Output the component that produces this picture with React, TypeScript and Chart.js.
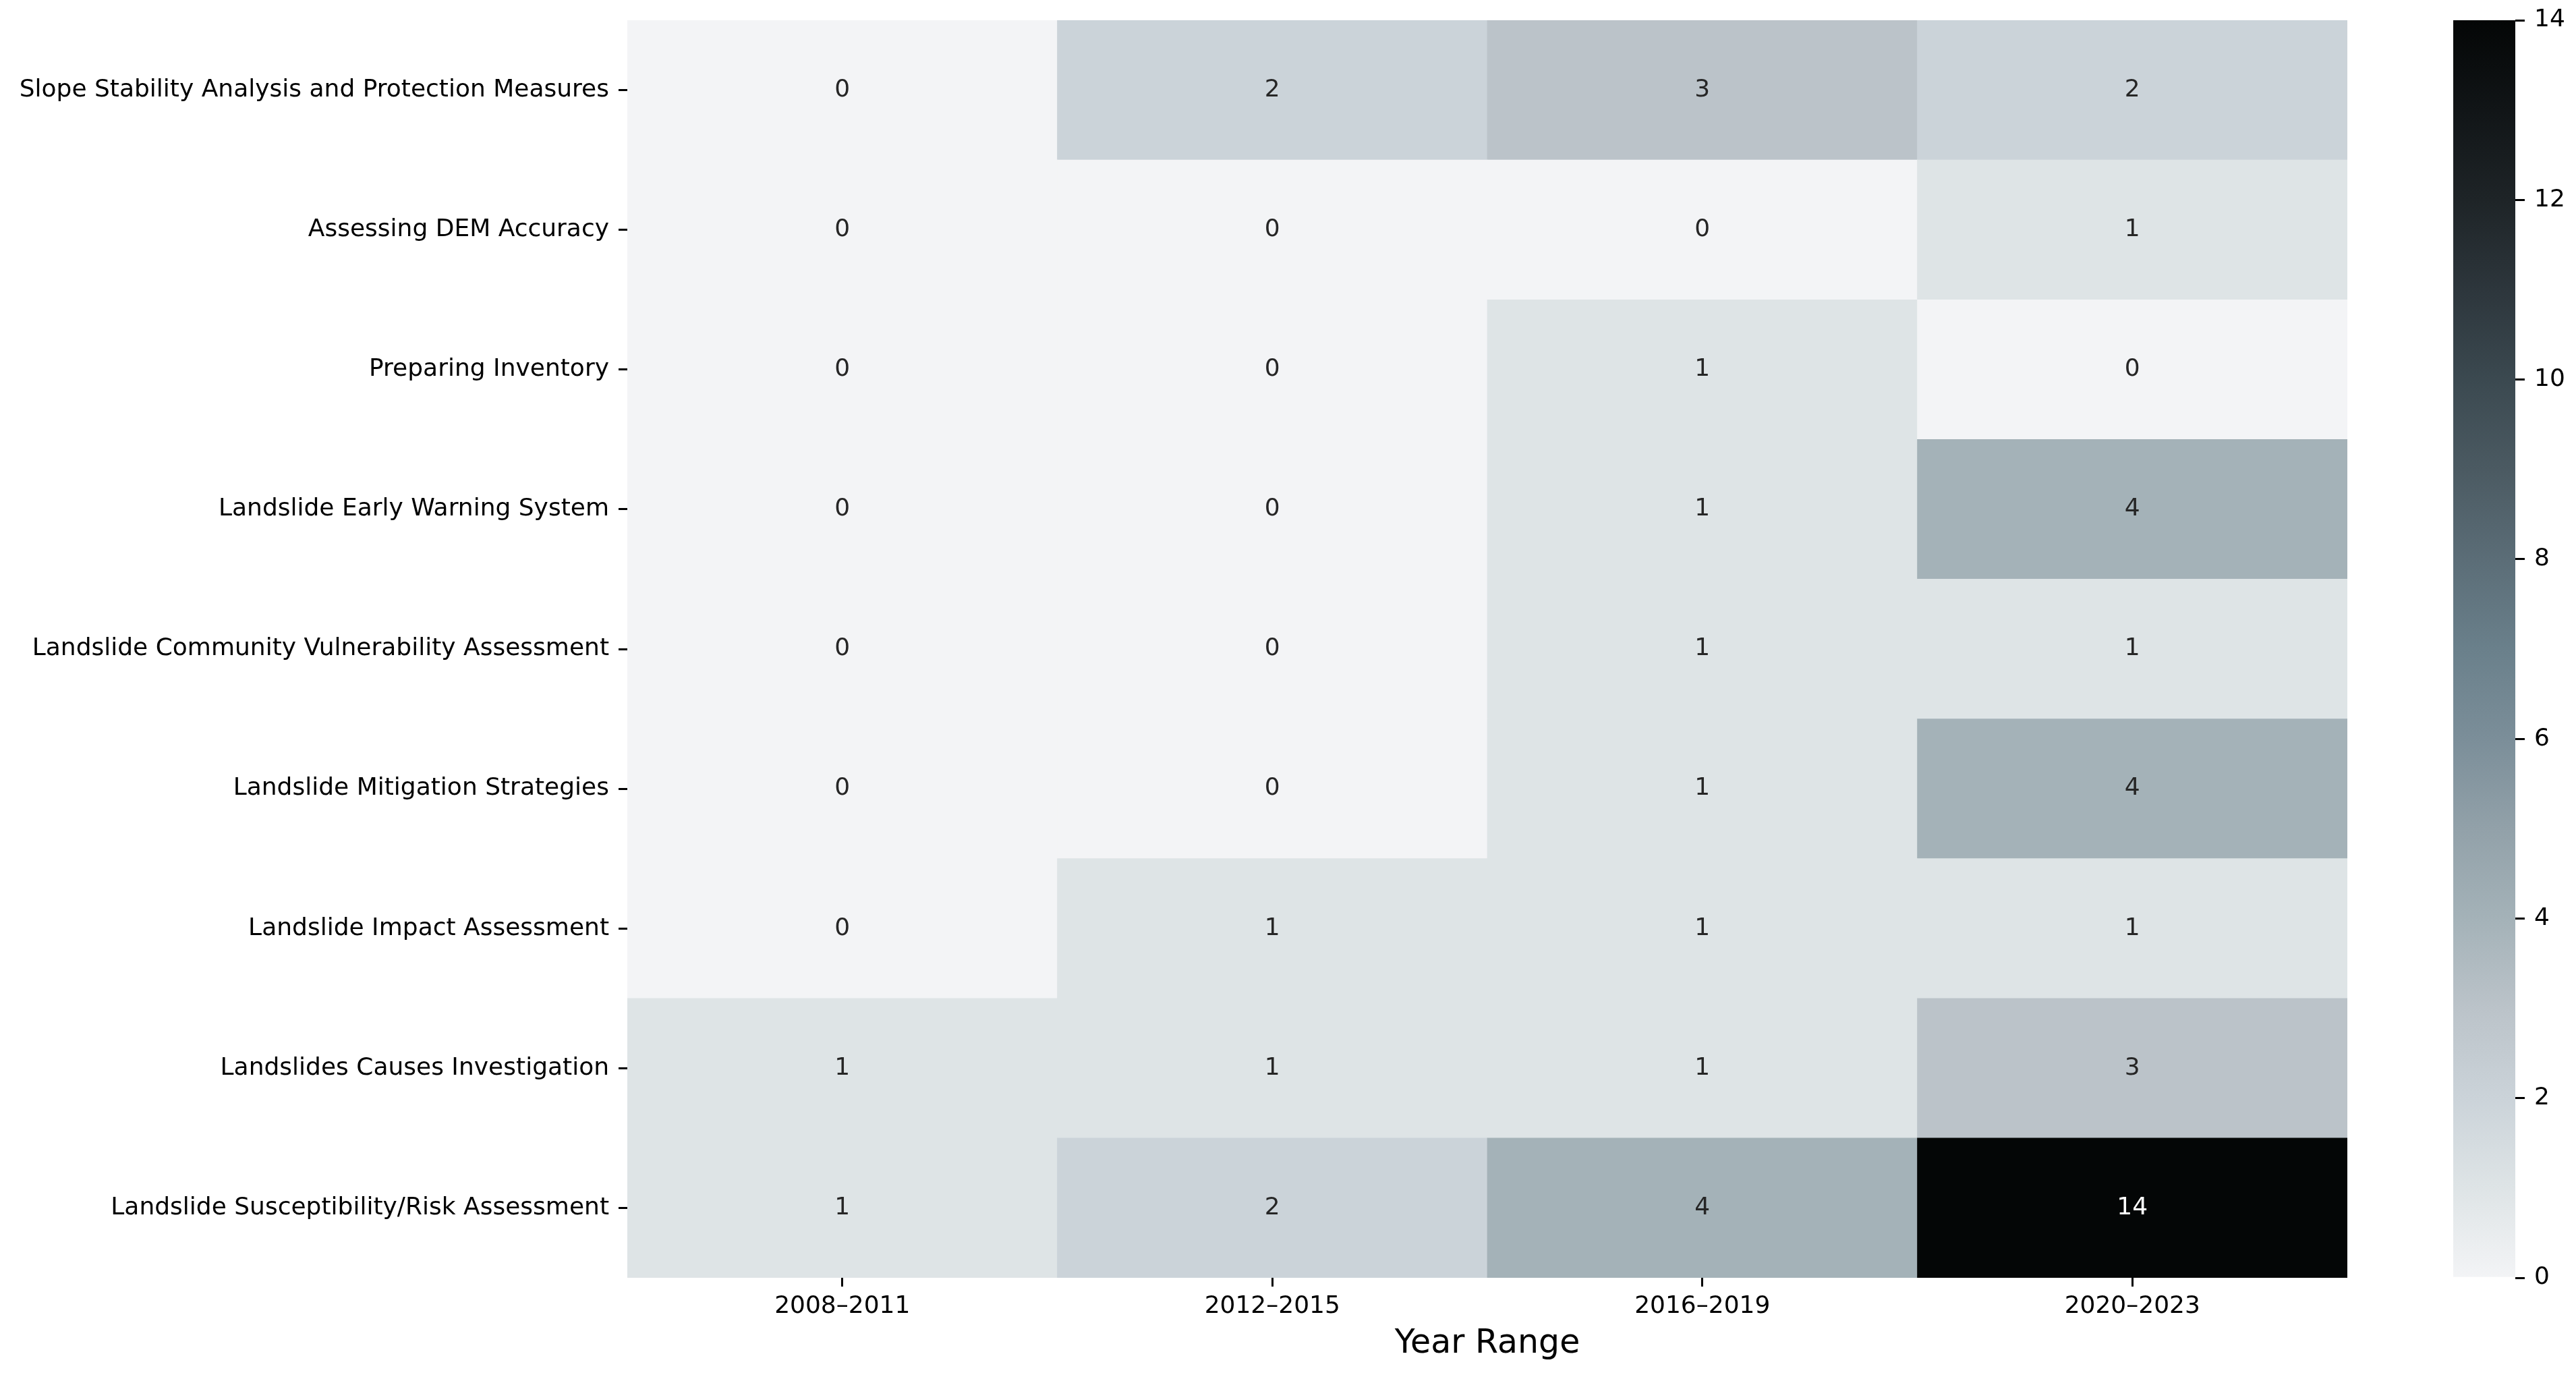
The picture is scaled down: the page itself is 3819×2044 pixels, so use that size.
import { useEffect, useRef } from "react";
import { Chart, registerables } from "chart.js";

Chart.register(...registerables);

const yearRanges = ["2008–2011", "2012–2015", "2016–2019", "2020–2023"];

const topics = [
  "Slope Stability Analysis and Protection Measures",
  "Assessing DEM Accuracy",
  "Preparing Inventory",
  "Landslide Early Warning System",
  "Landslide Community Vulnerability Assessment",
  "Landslide Mitigation Strategies",
  "Landslide Impact Assessment",
  "Landslides Causes Investigation",
  "Landslide Susceptibility/Risk Assessment",
];

const counts2008to2011 = [0, 0, 0, 0, 0, 0, 0, 1, 1];
const counts2012to2015 = [2, 0, 0, 0, 0, 0, 1, 1, 2];
const counts2016to2019 = [3, 0, 1, 1, 1, 1, 1, 1, 4];
const counts2020to2023 = [2, 1, 0, 4, 1, 4, 1, 3, 14];

const colorbarTicks = [0, 2, 4, 6, 8, 10, 12, 14];
const colorMin = 0;
const colorMax = 14;

const xTitle = "Year Range";

// colour map stops, evenly spaced from colorMin to colorMax
const cmapStops: number[][] = [
  [243, 244, 246],
  [222, 228, 230],
  [203, 211, 217],
  [187, 195, 201],
  [164, 178, 184],
  [146, 161, 169],
  [123, 142, 153],
  [106, 128, 139],
  [91, 109, 119],
  [75, 90, 98],
  [59, 73, 80],
  [45, 54, 60],
  [30, 36, 39],
  [17, 21, 23],
  [4, 6, 6],
];

const FONT = "'DejaVu Sans', 'Liberation Sans', sans-serif";
const W = 3819;
const H = 2044;

function rgb(c: number[]) {
  return `rgb(${Math.round(c[0])},${Math.round(c[1])},${Math.round(c[2])})`;
}

function cmap(v: number) {
  const t = Math.max(0, Math.min(1, (v - colorMin) / (colorMax - colorMin)));
  const pos = t * (cmapStops.length - 1);
  const i = Math.min(cmapStops.length - 2, Math.floor(pos));
  const f = pos - i;
  const a = cmapStops[i];
  const b = cmapStops[i + 1];
  return rgb([a[0] + (b[0] - a[0]) * f, a[1] + (b[1] - a[1]) * f, a[2] + (b[2] - a[2]) * f]);
}

const columns = [counts2008to2011, counts2012to2015, counts2016to2019, counts2020to2023];

const annotatePlugin = {
  id: "annotateCells",
  afterDatasetsDraw(chart: any) {
    const ctx = chart.ctx;
    ctx.save();
    ctx.font = `36px ${FONT}`;
    ctx.textAlign = "center";
    ctx.textBaseline = "middle";
    chart.data.datasets.forEach((ds: any, di: number) => {
      const meta = chart.getDatasetMeta(di);
      meta.data.forEach((el: any, i: number) => {
        const v = ds.values[i];
        const p = el.getCenterPoint();
        ctx.fillStyle = v >= 8 ? "#ffffff" : "#262626";
        ctx.fillText(String(v), p.x, p.y);
      });
    });
    ctx.restore();
  },
};

function noPadV(s: any) {
  s.paddingTop = 0;
  s.paddingBottom = 0;
}

export default function App() {
  const mainRef = useRef<HTMLCanvasElement | null>(null);
  const cbRef = useRef<HTMLCanvasElement | null>(null);

  useEffect(() => {
    document.body.style.margin = "0";
    const tickFont = { family: FONT, size: 36 };

    const datasets = topics
      .map((t, r) => ({
        label: t,
        data: yearRanges.map(() => 1),
        values: columns.map((c) => c[r]),
        backgroundColor: columns.map((c) => cmap(c[r])),
        borderWidth: 0,
        barPercentage: 1,
        categoryPercentage: 1,
      }))
      .reverse();

    const tickGrid = {
      display: true,
      drawOnChartArea: false,
      drawTicks: true,
      tickLength: 13,
      lineWidth: 3,
      tickWidth: 3,
      color: "#000",
      tickColor: "#000",
      offset: false,
    };

    const main = new Chart(mainRef.current as HTMLCanvasElement, {
      type: "bar",
      data: { labels: yearRanges, datasets: datasets as any },
      options: {
        animation: false,
        responsive: false,
        devicePixelRatio: 1,
        events: [],
        layout: { padding: { top: 30, right: 339, left: 0, bottom: 0 } },
        plugins: { legend: { display: false }, tooltip: { enabled: false } },
        scales: {
          x: {
            type: "category",
            stacked: true,
            offset: true,
            grid: tickGrid,
            border: { display: false },
            ticks: { color: "#000", font: tickFont, padding: 8, maxRotation: 0, autoSkip: false },
            title: {
              display: true,
              text: xTitle,
              color: "#000",
              font: { family: FONT, size: 49 },
              padding: { top: 0, bottom: 22 },
            },
            afterFit(s: any) {
              s.height = 150;
              s.paddingLeft = 0;
              s.paddingRight = 0;
            },
          },
          y: { type: "linear", stacked: true, min: 0, max: topics.length, display: false },
          rows: {
            type: "category",
            labels: topics,
            position: "left",
            offset: true,
            grid: tickGrid,
            border: { display: false },
            ticks: { color: "#000", font: tickFont, padding: 14, autoSkip: false },
            afterFit(s: any) {
              s.width = 930;
              noPadV(s);
            },
          },
        } as any,
      },
      plugins: [annotatePlugin],
    });

    const cb = new Chart(cbRef.current as HTMLCanvasElement, {
      type: "bar",
      data: {
        labels: [""],
        datasets: [
          {
            data: [[colorMin, colorMax]] as any,
            borderWidth: 0,
            barPercentage: 1,
            categoryPercentage: 1,
            backgroundColor: (c: any) => {
              const chart = c.chart;
              if (!chart.chartArea || !chart.scales.y) return cmap(7);
              const ys = chart.scales.y;
              const g = chart.ctx.createLinearGradient(
                0,
                ys.getPixelForValue(colorMin),
                0,
                ys.getPixelForValue(colorMax)
              );
              cmapStops.forEach((s, i) => g.addColorStop(i / (cmapStops.length - 1), rgb(s)));
              return g;
            },
          },
        ],
      },
      options: {
        animation: false,
        responsive: false,
        devicePixelRatio: 1,
        events: [],
        layout: { padding: { top: 30, bottom: 150, left: 37, right: 0 } },
        plugins: { legend: { display: false }, tooltip: { enabled: false } },
        scales: {
          x: { display: false, offset: true },
          y: {
            position: "right",
            min: colorMin,
            max: colorMax,
            afterBuildTicks(s: any) {
              s.ticks = colorbarTicks.map((v) => ({ value: v }));
            },
            grid: { ...tickGrid, tickLength: 14 },
            border: { display: false },
            ticks: { color: "#000", font: tickFont, padding: 14 },
            afterFit(s: any) {
              s.width = 90;
              noPadV(s);
            },
          },
        } as any,
      },
    });

    return () => {
      main.destroy();
      cb.destroy();
    };
  }, []);

  return (
    <div style={{ position: "fixed", left: 0, top: 0, width: W, height: H, background: "#fff" }}>
      <canvas
        ref={mainRef}
        width={W}
        height={H}
        style={{ position: "absolute", left: 0, top: 0, width: W, height: H }}
      />
      <canvas
        ref={cbRef}
        width={219}
        height={H}
        style={{ position: "absolute", left: 3600, top: 0, width: 219, height: H }}
      />
    </div>
  );
}
